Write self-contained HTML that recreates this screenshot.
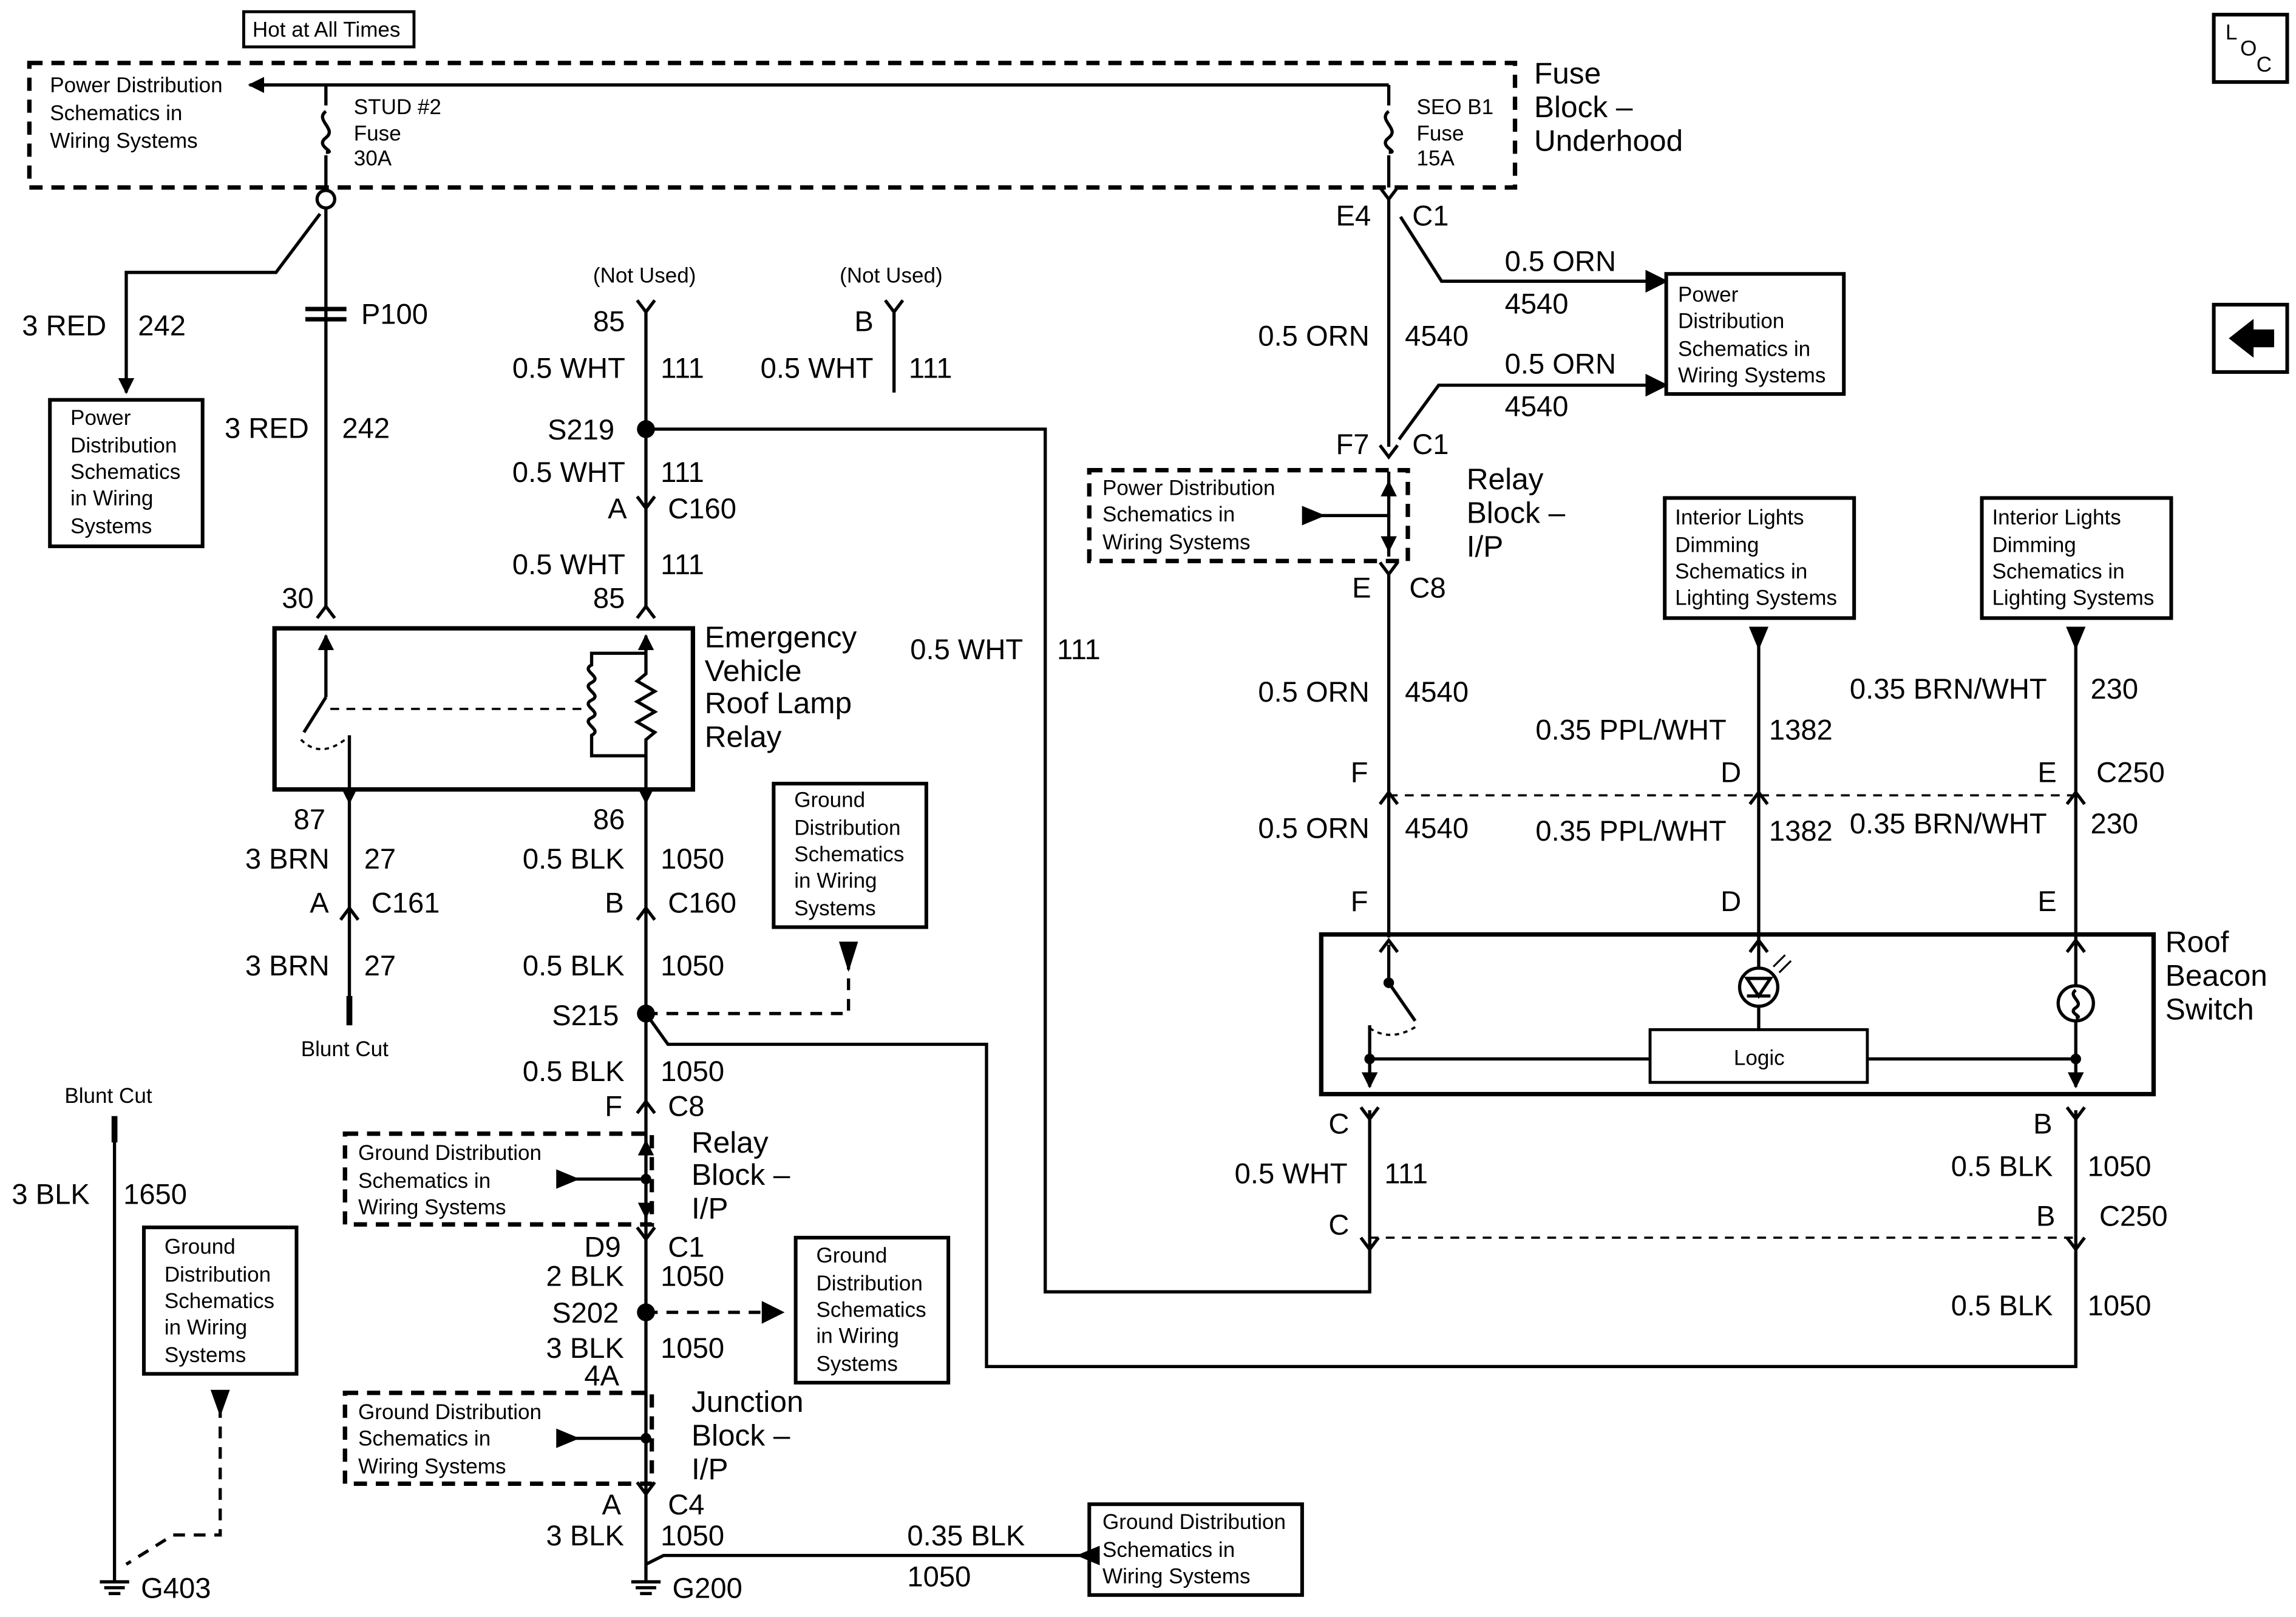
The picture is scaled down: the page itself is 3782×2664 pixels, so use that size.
<!DOCTYPE html>
<html><head><meta charset="utf-8"><style>
html,body{margin:0;padding:0;background:#fff}
svg{display:block}
text{font-family:"Liberation Sans",sans-serif;fill:#000}
.s{font-size:14.5px}.m{font-size:19.5px}.l{font-size:20.5px}
</style></head><body>
<svg width="3782" height="2664" viewBox="0 0 1564 1104" preserveAspectRatio="none" xmlns="http://www.w3.org/2000/svg">
<defs>
<marker id="ar" viewBox="0 0 10 10" refX="9" refY="5" markerWidth="5" markerHeight="5" orient="auto-start-reverse"><path d="M0,0L10,5L0,10z" fill="#000"/></marker>
</defs>
<g fill="none" stroke="#000" stroke-width="2.2">
<!-- top -->
<rect x="166" y="8" width="116" height="24" stroke-width="2"/>
<rect x="20" y="43" width="1012" height="85" stroke-dasharray="9,6" stroke-width="3"/>
<line x1="946" y1="58" x2="170" y2="58" marker-end="url(#ar)"/>
<line x1="222" y1="58" x2="222" y2="72"/><line x1="946" y1="58" x2="946" y2="72"/>
<path d="M222,76 C214,82 230,88 222,94 C214,100 230,104 222,104"/>
<path d="M946,76 C938,82 954,88 946,94 C938,100 954,104 946,104"/>
<line x1="222" y1="106" x2="222" y2="130"/><line x1="946" y1="106" x2="946" y2="128"/>
<circle cx="222" cy="136" r="6"/>
<line x1="222" y1="142" x2="222" y2="415"/>
<path d="M218,146 L188,186 L86,186 L86,268" marker-end="url(#ar)"/>
<rect x="34" y="273" width="104" height="100" stroke-width="2.5"/>
<line x1="208" y1="211" x2="236" y2="211" stroke-width="3"/><line x1="208" y1="218" x2="236" y2="218" stroke-width="3"/>
<path d="M216,422 L222,414 L228,422"/>
<!-- relay -->
<rect x="187" y="429" width="285" height="110" stroke-width="3"/>
<line x1="222" y1="434" x2="222" y2="476" marker-start="url(#ar)"/>
<line x1="440" y1="434" x2="440" y2="446" marker-start="url(#ar)"/>
<path d="M222,476 L207,500"/>
<line x1="225" y1="484" x2="400" y2="484" stroke-dasharray="6,5" stroke-width="1.5"/>
<path d="M205,505 Q218,518 235,505" stroke-dasharray="3,3" stroke-width="1.5"/>
<line x1="238" y1="502" x2="238" y2="548" marker-end="url(#ar)"/>
<path d="M440,446 L403,446 L403,454 C395,458 411,462 403,466 C395,470 411,474 403,478 C395,482 411,486 403,490 C395,494 411,498 403,502 L403,516 L440,516"/>
<path d="M440,446 L440,460 L434,465 L446,472 L434,479 L446,486 L434,493 L446,500 L440,505 L440,548" marker-end="url(#ar)"/>
<line x1="238" y1="548" x2="238" y2="700"/>
<line x1="238" y1="680" x2="238" y2="700" stroke-width="4"/>
<path d="M232,628 L238,620 L244,628"/>
<!-- column 440 -->
<path d="M434,205 L440,213 L446,205"/><line x1="440" y1="213" x2="440" y2="415"/>
<path d="M603,205 L609,213 L615,205"/><line x1="609" y1="213" x2="609" y2="268"/>
<circle cx="440" cy="293" r="5" fill="#000"/>
<path d="M440,293 L712,293 L712,882 L933,882 L933,845"/>
<path d="M434,339 L440,347 L446,339"/>
<path d="M434,422 L440,414 L446,422"/>
<line x1="440" y1="548" x2="440" y2="1080"/>
<path d="M434,628 L440,620 L446,628"/>
<circle cx="440" cy="692" r="5" fill="#000"/>
<path d="M440,692 L578,692 L578,652" stroke-dasharray="8,6"/>
<path d="M573,644 L583,644 L578,660z" fill="#000"/>
<rect x="527" y="535" width="104" height="98" stroke-width="2.5"/>
<path d="M440,692 L455,713 L672,713 L672,933 L1414,933 L1414,855"/>
<path d="M434,760 L440,752 L446,760"/>
<rect x="235" y="774" width="209" height="62" stroke-dasharray="9,6" stroke-width="3"/>
<line x1="380" y1="805" x2="438" y2="805"/><path d="M380,800 L380,810 L392,805z" fill="#000"/>
<circle cx="440" cy="805" r="2.5" fill="#000"/>
<line x1="440" y1="780" x2="440" y2="779" marker-end="url(#ar)"/>
<line x1="440" y1="830" x2="440" y2="831" marker-end="url(#ar)"/>
<path d="M434,838 L440,846 L446,838"/>
<circle cx="440" cy="896" r="5" fill="#000"/>
<line x1="440" y1="896" x2="520" y2="896" stroke-dasharray="8,6"/><path d="M520,890 L532,896 L520,902z" fill="#000"/>
<rect x="542" y="845" width="104" height="99" stroke-width="2.5"/>
<rect x="235" y="951" width="209" height="62" stroke-dasharray="9,6" stroke-width="3"/>
<line x1="380" y1="982" x2="438" y2="982"/><path d="M380,977 L380,987 L392,982z" fill="#000"/>
<circle cx="440" cy="982" r="2.5" fill="#000"/>
<path d="M434,1012 L440,1020 L446,1012"/>
<path d="M440,1068 L452,1062 L740,1062"/><path d="M748,1057 L736,1062 L748,1067z" fill="#000"/>
<rect x="742" y="1027" width="145" height="62" stroke-width="2.5"/>
<!-- ground G200 -->
<line x1="430" y1="1080" x2="450" y2="1080"/><line x1="433" y1="1084" x2="447" y2="1084"/><line x1="436" y1="1088" x2="444" y2="1088"/>
<!-- left G403 -->
<line x1="78" y1="765" x2="78" y2="1080"/><line x1="78" y1="762" x2="78" y2="780" stroke-width="4"/>
<line x1="68" y1="1080" x2="88" y2="1080"/><line x1="71" y1="1084" x2="85" y2="1084"/><line x1="74" y1="1088" x2="82" y2="1088"/>
<rect x="98" y="838" width="104" height="100" stroke-width="2.5"/>
<path d="M150,960 L150,1048 L118,1048 L86,1068" stroke-dasharray="8,6"/>
<path d="M145,950 L155,950 L150,964z" fill="#000"/>
<!-- right column 946 -->
<path d="M940,128 L946,136 L952,128"/>
<line x1="946" y1="136" x2="946" y2="305"/>
<path d="M954,148 L982,192 L1128,192" /><path d="M1122,186 L1134,192 L1122,198z" fill="#000"/>
<rect x="1135" y="187" width="121" height="82" stroke-width="2.5"/>
<path d="M953,300 L980,263 L1128,263"/><path d="M1122,257 L1134,263 L1122,269z" fill="#000"/>
<path d="M940,304 L946,312 L952,304"/>
<rect x="742" y="321" width="217" height="62" stroke-dasharray="9,6" stroke-width="3"/>
<line x1="946" y1="330" x2="946" y2="329" marker-end="url(#ar)"/>
<line x1="946" y1="322" x2="946" y2="380"/>
<line x1="946" y1="374" x2="946" y2="376" marker-end="url(#ar)"/>
<line x1="890" y1="352" x2="946" y2="352"/><path d="M888,347 L888,357 L900,352z" fill="#000"/>
<path d="M940,384 L946,392 L952,384"/>
<line x1="946" y1="392" x2="946" y2="640"/>
<path d="M940,549 L946,541 L952,549"/>
<line x1="946" y1="543" x2="1414" y2="543" stroke-dasharray="6,5" stroke-width="1.5"/>
<path d="M940,650 L946,642 L952,650"/>
<rect x="1134" y="340" width="129" height="82" stroke-width="2.5"/>
<rect x="1350" y="340" width="129" height="82" stroke-width="2.5"/>
<path d="M1193,429 L1203,429 L1198,441z" fill="#000"/><path d="M1409,429 L1419,429 L1414,441z" fill="#000"/>
<line x1="1198" y1="440" x2="1198" y2="660"/><line x1="1414" y1="440" x2="1414" y2="672"/>
<path d="M1192,549 L1198,541 L1204,549"/><path d="M1408,549 L1414,541 L1420,549"/>
<path d="M1192,650 L1198,642 L1204,650"/><path d="M1408,650 L1414,642 L1420,650"/>
<!-- switch -->
<rect x="900" y="638" width="567" height="109" stroke-width="3"/>
<rect x="1124" y="703" width="148" height="36" stroke-width="2"/>
<line x1="946" y1="645" x2="946" y2="670"/><circle cx="946" cy="671" r="2.5" fill="#000"/>
<path d="M946,671 L964,697"/>
<path d="M933,702 Q948,712 966,700" stroke-dasharray="3,3" stroke-width="1.5"/>
<line x1="933" y1="700" x2="933" y2="742" marker-end="url(#ar)"/>
<line x1="933" y1="723" x2="1124" y2="723"/><line x1="1272" y1="723" x2="1414" y2="723"/>
<circle cx="933" cy="723" r="2.5" fill="#000"/><circle cx="1414" cy="723" r="2.5" fill="#000"/>
<circle cx="1198" cy="674" r="13"/><path d="M1190,668 L1206,668 L1198,680z M1190,680 L1206,680"/>
<line x1="1198" y1="687" x2="1198" y2="703"/>
<path d="M1208,660 L1216,652 M1212,664 L1220,656" stroke-width="1.3"/>
<circle cx="1414" cy="685" r="12"/><path d="M1414,676 C1408,680 1420,684 1414,688 C1408,692 1420,694 1414,695"/>
<line x1="1414" y1="697" x2="1414" y2="742" marker-end="url(#ar)"/>
<line x1="933" y1="758" x2="933" y2="882"/><line x1="1414" y1="758" x2="1414" y2="933"/>
<path d="M927,756 L933,764 L939,756"/><path d="M1408,756 L1414,764 L1420,756"/>
<line x1="933" y1="845" x2="1414" y2="845" stroke-dasharray="6,5" stroke-width="1.5"/>
<path d="M927,845 L933,853 L939,845"/><path d="M1408,845 L1414,853 L1420,845"/>
<!-- corner icons -->
<rect x="1508" y="10" width="50" height="46" stroke-width="2.5"/>
<rect x="1508" y="208" width="50" height="46" stroke-width="2.5"/>
<path d="M1520,231 L1534,220 L1534,226 L1548,226 L1548,236 L1534,236 L1534,242z" fill="#000"/>
</g>
<g>
<text class="s" x="172" y="25">Hot at All Times</text>
<text class="s" x="34" y="63">Power Distribution</text><text class="s" x="34" y="82">Schematics in</text><text class="s" x="34" y="101">Wiring Systems</text>
<text class="s" x="241" y="78">STUD #2</text><text class="s" x="241" y="96">Fuse</text><text class="s" x="241" y="113">30A</text>
<text class="s" x="965" y="78">SEO B1</text><text class="s" x="965" y="96">Fuse</text><text class="s" x="965" y="113">15A</text>
<text class="l" x="1045" y="57">Fuse</text><text class="l" x="1045" y="80">Block –</text><text class="l" x="1045" y="103">Underhood</text>
<text class="m" x="15" y="229">3 RED</text><text class="m" x="94" y="229">242</text>
<text class="m" x="246" y="221">P100</text>
<text class="s" x="48" y="290">Power</text><text class="s" x="48" y="309">Distribution</text><text class="s" x="48" y="327">Schematics</text><text class="s" x="48" y="345">in Wiring</text><text class="s" x="48" y="364">Systems</text>
<text class="m" x="153" y="299">3 RED</text><text class="m" x="233" y="299">242</text>
<text class="m" x="192" y="415">30</text>
<text class="s" x="404" y="193">(Not Used)</text><text class="s" x="572" y="193">(Not Used)</text>
<text class="m" x="404" y="226">85</text><text class="m" x="582" y="226">B</text>
<text class="m" x="349" y="258">0.5 WHT</text><text class="m" x="450" y="258">111</text>
<text class="m" x="518" y="258">0.5 WHT</text><text class="m" x="619" y="258">111</text>
<text class="m" x="373" y="300">S219</text>
<text class="m" x="349" y="329">0.5 WHT</text><text class="m" x="450" y="329">111</text>
<text class="m" x="414" y="354">A</text><text class="m" x="455" y="354">C160</text>
<text class="m" x="349" y="392">0.5 WHT</text><text class="m" x="450" y="392">111</text>
<text class="m" x="404" y="415">85</text>
<text class="l" x="480" y="442">Emergency</text><text class="l" x="480" y="465">Vehicle</text><text class="l" x="480" y="487">Roof Lamp</text><text class="l" x="480" y="510">Relay</text>
<text class="m" x="620" y="450">0.5 WHT</text><text class="m" x="720" y="450">111</text>
<text class="m" x="200" y="566">87</text><text class="m" x="404" y="566">86</text>
<text class="m" x="167" y="593">3 BRN</text><text class="m" x="248" y="593">27</text>
<text class="m" x="356" y="593">0.5 BLK</text><text class="m" x="450" y="593">1050</text>
<text class="m" x="211" y="623">A</text><text class="m" x="253" y="623">C161</text>
<text class="m" x="412" y="623">B</text><text class="m" x="455" y="623">C160</text>
<text class="m" x="167" y="666">3 BRN</text><text class="m" x="248" y="666">27</text>
<text class="m" x="356" y="666">0.5 BLK</text><text class="m" x="450" y="666">1050</text>
<text class="s" x="205" y="721">Blunt Cut</text>
<text class="s" x="541" y="551">Ground</text><text class="s" x="541" y="570">Distribution</text><text class="s" x="541" y="588">Schematics</text><text class="s" x="541" y="606">in Wiring</text><text class="s" x="541" y="625">Systems</text>
<text class="m" x="376" y="700">S215</text>
<text class="m" x="356" y="738">0.5 BLK</text><text class="m" x="450" y="738">1050</text>
<text class="m" x="412" y="762">F</text><text class="m" x="455" y="762">C8</text>
<text class="s" x="244" y="792">Ground Distribution</text><text class="s" x="244" y="811">Schematics in</text><text class="s" x="244" y="829">Wiring Systems</text>
<text class="l" x="471" y="787">Relay</text><text class="l" x="471" y="809">Block –</text><text class="l" x="471" y="832">I/P</text>
<text class="m" x="398" y="858">D9</text><text class="m" x="455" y="858">C1</text>
<text class="m" x="372" y="878">2 BLK</text><text class="m" x="450" y="878">1050</text>
<text class="m" x="376" y="903">S202</text>
<text class="m" x="372" y="927">3 BLK</text><text class="m" x="450" y="927">1050</text>
<text class="m" x="398" y="946">4A</text>
<text class="s" x="556" y="862">Ground</text><text class="s" x="556" y="881">Distribution</text><text class="s" x="556" y="899">Schematics</text><text class="s" x="556" y="917">in Wiring</text><text class="s" x="556" y="936">Systems</text>
<text class="s" x="244" y="969">Ground Distribution</text><text class="s" x="244" y="987">Schematics in</text><text class="s" x="244" y="1006">Wiring Systems</text>
<text class="l" x="471" y="964">Junction</text><text class="l" x="471" y="987">Block –</text><text class="l" x="471" y="1010">I/P</text>
<text class="m" x="410" y="1034">A</text><text class="m" x="455" y="1034">C4</text>
<text class="m" x="372" y="1055">3 BLK</text><text class="m" x="450" y="1055">1050</text>
<text class="m" x="458" y="1091">G200</text>
<text class="m" x="618" y="1055">0.35 BLK</text><text class="m" x="618" y="1083">1050</text>
<text class="s" x="751" y="1044">Ground Distribution</text><text class="s" x="751" y="1063">Schematics in</text><text class="s" x="751" y="1081">Wiring Systems</text>
<text class="s" x="44" y="753">Blunt Cut</text>
<text class="m" x="8" y="822">3 BLK</text><text class="m" x="84" y="822">1650</text>
<text class="s" x="112" y="856">Ground</text><text class="s" x="112" y="875">Distribution</text><text class="s" x="112" y="893">Schematics</text><text class="s" x="112" y="911">in Wiring</text><text class="s" x="112" y="930">Systems</text>
<text class="m" x="96" y="1091">G403</text>
<text class="m" x="910" y="154">E4</text><text class="m" x="962" y="154">C1</text>
<text class="m" x="1025" y="185">0.5 ORN</text><text class="m" x="1025" y="214">4540</text>
<text class="s" x="1143" y="206">Power</text><text class="s" x="1143" y="224">Distribution</text><text class="s" x="1143" y="243">Schematics in</text><text class="s" x="1143" y="261">Wiring Systems</text>
<text class="m" x="857" y="236">0.5 ORN</text><text class="m" x="957" y="236">4540</text>
<text class="m" x="1025" y="255">0.5 ORN</text><text class="m" x="1025" y="284">4540</text>
<text class="m" x="910" y="310">F7</text><text class="m" x="962" y="310">C1</text>
<text class="s" x="751" y="338">Power Distribution</text><text class="s" x="751" y="356">Schematics in</text><text class="s" x="751" y="375">Wiring Systems</text>
<text class="l" x="999" y="334">Relay</text><text class="l" x="999" y="357">Block –</text><text class="l" x="999" y="380">I/P</text>
<text class="m" x="921" y="408">E</text><text class="m" x="960" y="408">C8</text>
<text class="s" x="1141" y="358">Interior Lights</text><text class="s" x="1141" y="377">Dimming</text><text class="s" x="1141" y="395">Schematics in</text><text class="s" x="1141" y="413">Lighting Systems</text>
<text class="s" x="1357" y="358">Interior Lights</text><text class="s" x="1357" y="377">Dimming</text><text class="s" x="1357" y="395">Schematics in</text><text class="s" x="1357" y="413">Lighting Systems</text>
<text class="m" x="857" y="479">0.5 ORN</text><text class="m" x="957" y="479">4540</text>
<text class="m" x="1260" y="477">0.35 BRN/WHT</text><text class="m" x="1424" y="477">230</text>
<text class="m" x="1046" y="505">0.35 PPL/WHT</text><text class="m" x="1205" y="505">1382</text>
<text class="m" x="920" y="534">F</text><text class="m" x="1172" y="534">D</text><text class="m" x="1388" y="534">E</text><text class="m" x="1428" y="534">C250</text>
<text class="m" x="857" y="572">0.5 ORN</text><text class="m" x="957" y="572">4540</text>
<text class="m" x="1046" y="574">0.35 PPL/WHT</text><text class="m" x="1205" y="574">1382</text>
<text class="m" x="1260" y="569">0.35 BRN/WHT</text><text class="m" x="1424" y="569">230</text>
<text class="m" x="920" y="622">F</text><text class="m" x="1172" y="622">D</text><text class="m" x="1388" y="622">E</text>
<text class="l" x="1475" y="650">Roof</text><text class="l" x="1475" y="673">Beacon</text><text class="l" x="1475" y="696">Switch</text>
<text class="s" x="1181" y="727">Logic</text>
<text class="m" x="905" y="774">C</text><text class="m" x="1385" y="774">B</text>
<text class="m" x="841" y="808">0.5 WHT</text><text class="m" x="943" y="808">111</text>
<text class="m" x="1329" y="803">0.5 BLK</text><text class="m" x="1422" y="803">1050</text>
<text class="m" x="905" y="843">C</text><text class="m" x="1387" y="837">B</text><text class="m" x="1430" y="837">C250</text>
<text class="m" x="1329" y="898">0.5 BLK</text><text class="m" x="1422" y="898">1050</text>
<text class="s" x="1516" y="27">L</text><text class="s" x="1526" y="38">O</text><text class="s" x="1537" y="49">C</text>
</g>
</svg>
</body></html>
